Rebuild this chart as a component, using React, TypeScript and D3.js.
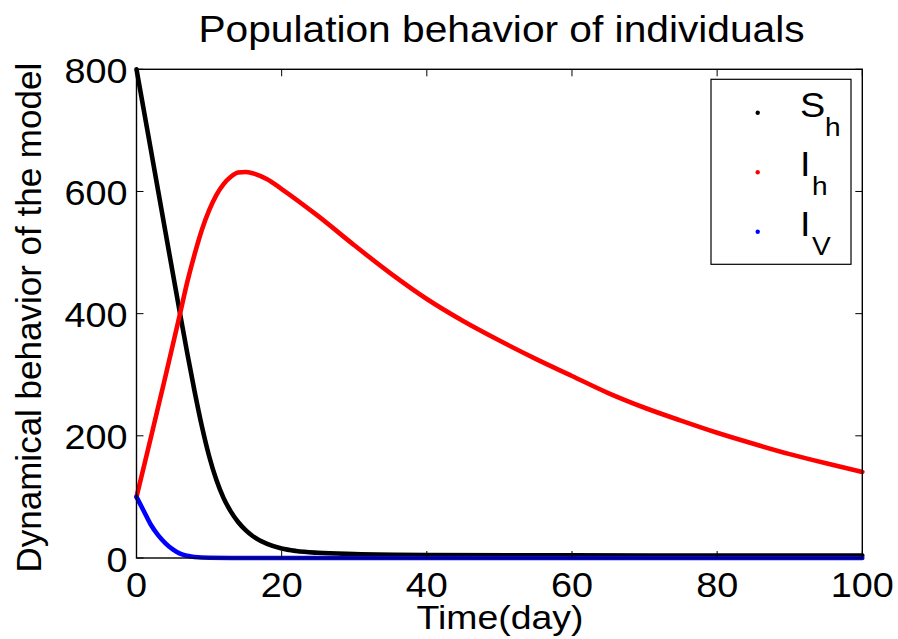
import React from "react";
import * as d3 from "d3";

const tS = [0, 2, 4, 6, 7, 8, 9, 10, 11, 12, 13, 14, 15, 16, 18, 20, 22, 25, 30, 40, 60, 80, 100];
const vS = [800, 667, 533, 400, 335, 273, 216, 167, 128, 98, 76, 59, 46, 36, 23, 15.5, 11.5, 8.5, 6.5, 5, 4.3, 4, 4];

const tIh = [0, 2, 4, 6, 7, 8, 9, 10, 11, 12, 13, 14, 15, 16, 18, 20, 25, 30, 35, 40, 45, 50, 55, 60, 65, 70, 75, 80, 85, 90, 95, 100];
const vIh = [100, 198, 298, 400, 452, 497, 537, 569, 594, 612, 624, 631, 632, 630, 620, 604, 560, 512, 466, 424, 388, 356, 326, 298, 270, 246, 225, 205, 187, 170, 155, 141];

const tIv = [0, 1, 2, 3, 4, 5, 6, 7, 8, 10, 15, 30, 60, 100];
const vIv = [100, 77, 54, 37, 24, 14, 7, 3.5, 1.5, 0.3, 0, 0, 0, 0];

const xTicks = [0, 20, 40, 60, 80, 100];
const yTicks = [0, 200, 400, 600, 800];

const title = "Population behavior of individuals";
const xLabel = "Time(day)";
const yLabel = "Dynamical behavior of the model";

const legendItems = [
  { main: "S", sub: "h", color: "#000000" },
  { main: "I", sub: "h", color: "#ff0000" },
  { main: "I", sub: "V", color: "#0000ff" },
];

const W = 898;
const H = 639;
const L = 136.5, R = 862.3, T = 69.3, B = 558;
const FONT = "'Liberation Sans', Arial, Helvetica, sans-serif";
const SX = 1.08;

export default function App() {
  const x = d3.scaleLinear().domain([0, 100]).range([L, R]);
  const y = d3.scaleLinear().domain([0, 800]).range([B, T]);
  const line = d3
    .line<[number, number]>()
    .x((d) => x(d[0]))
    .y((d) => y(d[1]))
    .curve(d3.curveMonotoneX);

  const series = [
    { t: tS, v: vS, color: "#000000" },
    { t: tIh, v: vIh, color: "#ff0000" },
    { t: tIv, v: vIv, color: "#0000ff" },
  ];

  const tickLen = 7;

  const HText = (props: { x: number; y: number; size: number; anchor?: string; sx?: number; children: React.ReactNode }) => (
    <g transform={`translate(${props.x},${props.y}) scale(${props.sx || SX},1)`}>
      <text x={0} y={0} fontSize={props.size} textAnchor={props.anchor || "start"} fontFamily={FONT} fill="#000">
        {props.children}
      </text>
    </g>
  );

  const legX = 711, legY = 79.3, legW = 140, legH = 185;

  return (
    <svg width={W} height={H} style={{ position: "absolute", left: 0, top: 0, display: "block", background: "#fff" }}>
      <rect x={0} y={0} width={W} height={H} fill="#fff" />
      {series.map((s, i) => (
        <path
          key={i}
          d={line(s.t.map((t, j) => [t, s.v[j]] as [number, number])) || ""}
          fill="none"
          stroke={s.color}
          strokeWidth={4.6}
          strokeLinejoin="round"
          strokeLinecap="round"
        />
      ))}
      <rect x={L} y={T} width={R - L} height={B - T} fill="none" stroke="#000" strokeWidth={1.4} />
      {xTicks.map((v) => (
        <g key={"xt" + v}>
          <line x1={x(v)} x2={x(v)} y1={B} y2={B - tickLen} stroke="#000" strokeWidth={1} />
          <line x1={x(v)} x2={x(v)} y1={T} y2={T + tickLen} stroke="#000" strokeWidth={1} />
          <HText x={x(v)} y={596.5} size={35} anchor="middle">{v}</HText>
        </g>
      ))}
      {yTicks.map((v) => (
        <g key={"yt" + v}>
          <line x1={L} x2={L + tickLen} y1={y(v)} y2={y(v)} stroke="#000" strokeWidth={1} />
          <line x1={R} x2={R - tickLen} y1={y(v)} y2={y(v)} stroke="#000" strokeWidth={1} />
          <HText x={127.5} y={y(v) + 13.5} size={35} anchor="end">{v}</HText>
        </g>
      ))}
      <HText x={501.5} y={41.7} size={37} anchor="middle" sx={1.1}>{title}</HText>
      <HText x={500} y={628.5} size={34} anchor="middle" sx={1.1}>{xLabel}</HText>
      <text
        transform={`translate(41,${(T + B) / 2 + 4}) rotate(-90)`}
        fontSize={35}
        textAnchor="middle"
        fontFamily={FONT}
        fill="#000"
      >
        {yLabel}
      </text>
      <rect x={legX} y={legY} width={legW} height={legH} fill="#fff" stroke="#000" strokeWidth={1.2} />
      {legendItems.map((it, i) => {
        const cy = 112.7 + i * 59.5;
        return (
          <g key={"lg" + i}>
            <circle cx={757.7} cy={cy} r={2.2} fill={it.color} />
            <HText x={800} y={cy + 4} size={35}>
              {it.main}
            </HText>
            <HText x={it.main === "S" ? 825 : 812} y={cy + 23} size={26}>
              {it.sub}
            </HText>
          </g>
        );
      })}
    </svg>
  );
}
